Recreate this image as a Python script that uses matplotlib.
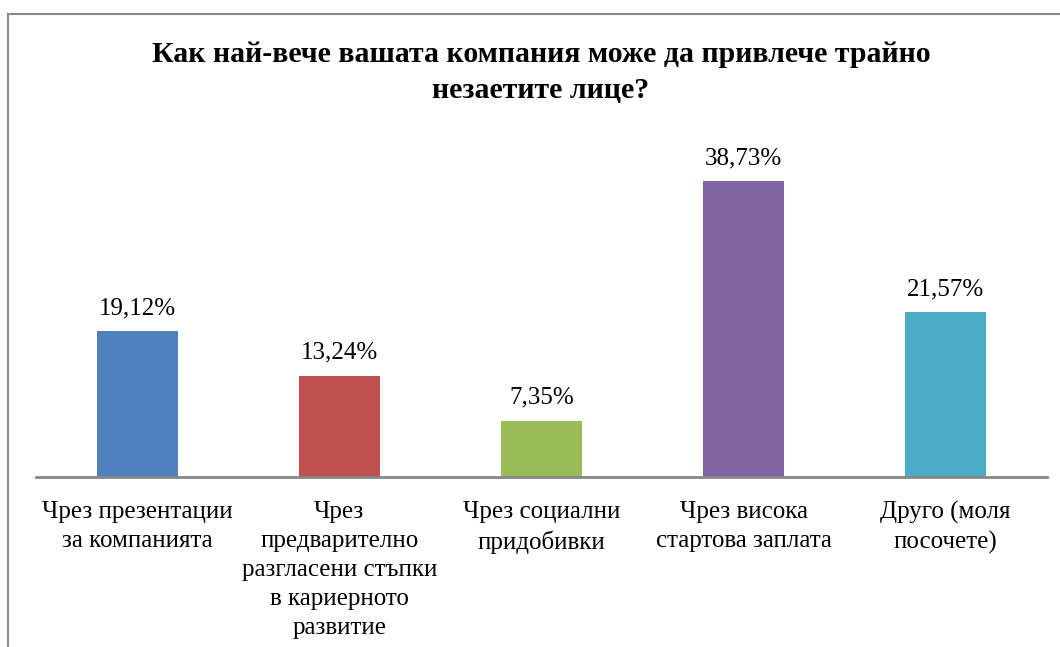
import matplotlib.pyplot as plt
from matplotlib.lines import Line2D

# data
categories = [
    'Чрез презентации\nза компанията',
    'Чрез\nпредварително\nразгласени стъпки\nв кариерното\nразвитие',
    'Чрез социални\nпридобивки',
    'Чрез висока\nстартова заплата',
    'Друго (моля\nпосочете)',
]
values = [19.12, 13.24, 7.35, 38.73, 21.57]
colors = ['#4F81BD', '#C0504D', '#9BBB59', '#8064A2', '#4BACC6']
title = 'Как най-вече вашата компания може да привлече трайно\nнезаетите лице?'

plt.rcParams['font.family'] = ['Liberation Serif', 'DejaVu Serif']

fig = plt.figure(figsize=(10.6, 6.47), dpi=100)
ax = fig.add_axes([0.034, 0.2628, 0.9535, 0.5316])

x = range(len(values))
ax.bar(x, values, width=0.4, color=colors)
for xi, v in zip(x, values):
    ax.text(xi, v + 1.55, f'{v:.2f}%'.replace('.', ','), ha='center', va='bottom',
            fontsize=18)

ax.set_xlim(-0.5, len(values) - 0.5)
ax.set_ylim(0, 45)
ax.set_yticks([])
ax.set_xticks(list(x))
ax.set_xticklabels(categories, fontsize=18, linespacing=1.42)
ax.tick_params(axis='x', length=0, pad=17)
for s in ['top', 'right', 'left']:
    ax.spines[s].set_visible(False)
ax.spines['bottom'].set_color('#878787')
ax.spines['bottom'].set_linewidth(2)

fig.text(0.5104, 0.888, title, ha='center', va='center', fontsize=21.5,
         fontweight='bold', linespacing=1.4)

# chart frame (cropped on right and bottom)
fig.add_artist(Line2D([8 / 1060, 8 / 1060], [0, 1 - 14 / 647],
                      transform=fig.transFigure, color='#8a8a8a', lw=1.5))
fig.add_artist(Line2D([8 / 1060, 1], [1 - 14 / 647, 1 - 14 / 647],
                      transform=fig.transFigure, color='#8a8a8a', lw=1.5))

fig.savefig('out.png', dpi=100)
